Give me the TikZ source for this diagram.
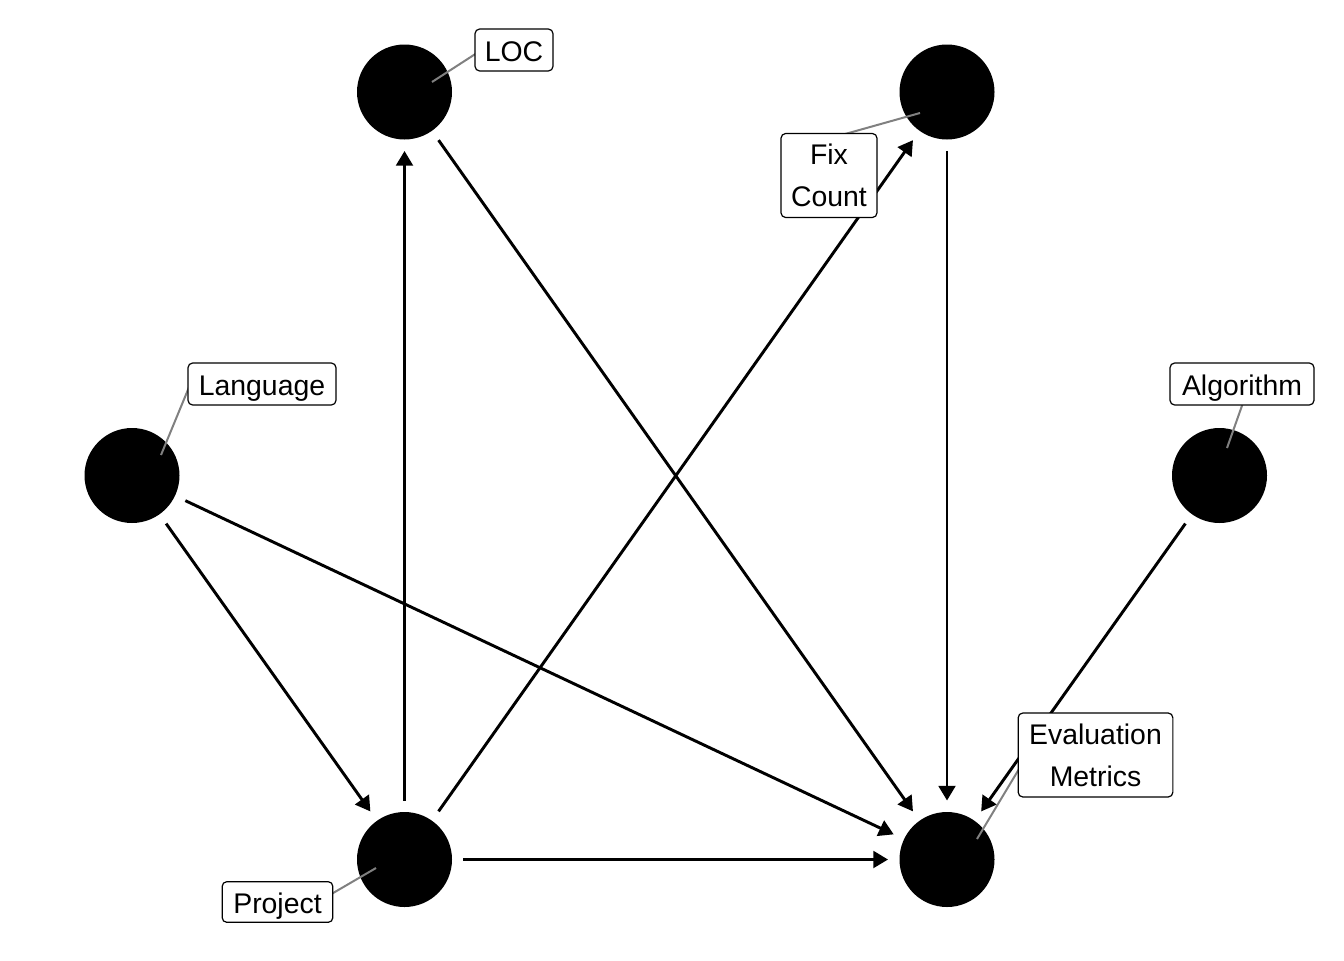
\documentclass[tikz,border=0pt]{standalone}
\usepackage{fontspec}
\setmainfont{Liberation Sans}
\usetikzlibrary{arrows.meta,calc}
\begin{document}
\begin{tikzpicture}[x=0.75pt,y=-0.75pt,
  dagnode/.style={circle,fill=black,inner sep=0pt,outer sep=0pt,minimum size=71.25pt},
  edge/.style={line width=2.2pt,-{Triangle[length=11pt,width=12.5pt]},shorten >=8.6pt,shorten <=8.6pt},
  leader/.style={line width=1.5pt,draw=black!50},
  lab/.style={draw=black,line width=0.9pt,fill=white,rounded corners=3.5pt,inner sep=0pt,
    align=center,font=\fontsize{21.3}{31.5}\selectfont},
  onelab/.style={lab,text height=18pt,text depth=1.5pt,minimum height=31.5pt},
  twolab/.style={lab,minimum height=63pt}
]
\useasboundingbox (0,0) rectangle (1344,960);
% nodes
\node[dagnode] (loc)  at (404.5,92) {};
\node[dagnode] (fix)  at (947,92) {};
\node[dagnode] (lang) at (132,475.5) {};
\node[dagnode] (alg)  at (1219.5,475.5) {};
\node[dagnode] (proj) at (404.5,859.5) {};
\node[dagnode] (eval) at (947,859.5) {};
% edges
\draw[edge] (lang) -- (proj);
\draw[edge] (lang) -- (eval);
\draw[edge] (proj) -- (loc);
\draw[edge] (proj) -- (fix);
\draw[edge] (proj) -- (eval);
\draw[edge] (loc) -- (eval);
\draw[edge] (fix) -- (eval);
\draw[edge] (alg) -- (eval);
% leader coordinates
\coordinate (sLOC) at (432,82);   \coordinate (eLOC) at (480,51);
\coordinate (sFix) at (920,113);  \coordinate (eFix) at (838,136);
\coordinate (sLang) at (161,455); \coordinate (eLang) at (192,380);
\coordinate (sAlg) at (1227,448); \coordinate (eAlg) at (1244,400);
\coordinate (sEval) at (977,839); \coordinate (eEval) at (1022,764);
\coordinate (sProj) at (376,868); \coordinate (eProj) at (328,896);
\draw[leader] (sLOC) -- (eLOC);
\draw[leader] (sFix) -- (eFix);
\draw[leader] (sLang) -- (eLang);
\draw[leader] (sAlg) -- (eAlg);
\draw[leader] (sEval) -- (eEval);
\draw[leader] (sProj) -- (eProj);
% labels
\node[onelab,minimum width=58.5pt] (lLOC) at (514,50) {LOC};
\node[twolab,minimum width=72pt] (lFix) at (829,175.5) {Fix\\Count};
\node[onelab,minimum width=111pt] (lLang) at (262,384) {Language};
\node[onelab,minimum width=108pt] (lAlg) at (1242,384) {Algorithm};
\node[twolab,minimum width=116pt] (lEval) at (1095.5,755) {Evaluation\\Metrics};
\node[onelab,minimum width=83pt,minimum height=30.5pt] (lProj) at (277.5,902) {Project};
\end{tikzpicture}
\end{document}
